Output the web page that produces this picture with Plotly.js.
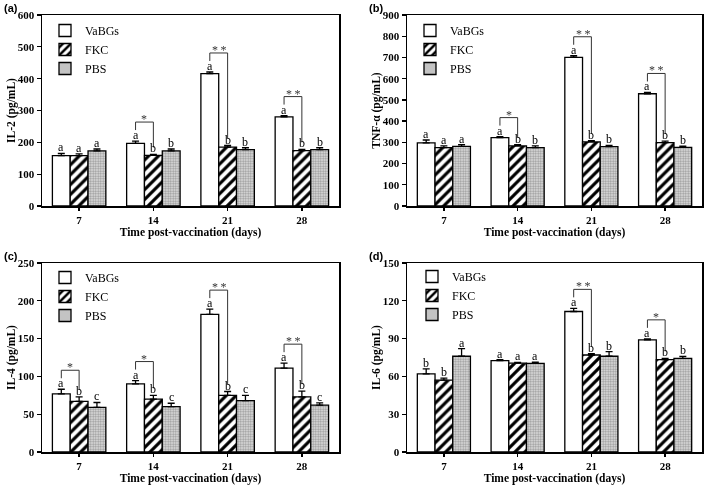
<!DOCTYPE html>
<html>
<head>
<meta charset="utf-8">
<script src="https://cdn.plot.ly/plotly-3.0.1.min.js"></script>
<style>
  html, body { margin: 0; padding: 0; background: #fff; }
  #chart { width: 709px; height: 487px; filter: grayscale(100%); }
</style>
</head>
<body>
<div id="chart"></div>
<script>
// days and groups
var days = ['7', '14', '21', '28'];
var groups = ['VaBGs', 'FKC', 'PBS'];

// IL-2 (pg/mL)
var il2Vab = [158, 197, 416, 280];
var il2VabErr = [7, 7, 5, 4];
var il2Fkc = [158, 159, 185, 174];
var il2FkcErr = [6, 3, 5, 4];
var il2Pbs = [173, 173, 177, 177];
var il2PbsErr = [6, 6, 6, 6];
var il2LetVab = ['a', 'a', 'a', 'a'];
var il2LetFkc = ['a', 'b', 'b', 'b'];
var il2LetPbs = ['a', 'b', 'b', 'b'];
var il2Sig = ['', '*', '**', '**'];

// TNF-alpha (pg/mL)
var tnfVab = [297, 322, 700, 529];
var tnfVabErr = [14, 5, 8, 6];
var tnfFkc = [275, 283, 302, 299];
var tnfFkcErr = [8, 6, 6, 7];
var tnfPbs = [281, 275, 280, 276];
var tnfPbsErr = [8, 8, 6, 6];
var tnfLetVab = ['a', 'a', 'a', 'a'];
var tnfLetFkc = ['a', 'b', 'b', 'b'];
var tnfLetPbs = ['a', 'b', 'b', 'b'];
var tnfSig = ['', '*', '**', '**'];

// IL-4 (pg/mL)
var il4Vab = [77, 90, 182, 111];
var il4VabErr = [6, 4.5, 7, 6.5];
var il4Fkc = [67, 70, 75, 73];
var il4FkcErr = [6, 5, 5, 7.5];
var il4Pbs = [59, 60, 68, 62];
var il4PbsErr = [6.5, 4.5, 7, 3];
var il4LetVab = ['a', 'a', 'a', 'a'];
var il4LetFkc = ['b', 'b', 'b', 'b'];
var il4LetPbs = ['c', 'c', 'c', 'c'];
var il4Sig = ['*', '*', '**', '**'];

// IL-6 (pg/mL)
var il6Vab = [62, 72.5, 111.5, 89];
var il6VabErr = [4, 0.8, 2.5, 0.8];
var il6Fkc = [57, 70.5, 77, 73.3];
var il6FkcErr = [1.6, 0.6, 1, 1];
var il6Pbs = [76, 70.4, 76, 74.3];
var il6PbsErr = [6, 1, 3.7, 1.6];
var il6LetVab = ['b', 'a', 'a', 'a'];
var il6LetFkc = ['b', 'a', 'b', 'b'];
var il6LetPbs = ['a', 'a', 'b', 'b'];
var il6Sig = ['', '', '**', '*'];

var W = 709, H = 487;
var bargap = 0.28;
var bw = (1 - bargap) / 3;
var serif = 'Liberation Serif, Times New Roman, serif';

// box = [left, top, right, bottom] in pixels, leg = legend left/top in pixels
var panels = [
    {tag: '(a)', title: 'IL-2 (pg/mL)', yMax: 600, dtick: 100, box: [42, 15, 339, 206], leg: [45, 16],
     vals: [il2Vab, il2Fkc, il2Pbs], errs: [il2VabErr, il2FkcErr, il2PbsErr], lets: [il2LetVab, il2LetFkc, il2LetPbs], sig: il2Sig},
    {tag: '(b)', title: 'TNF-α (pg/mL)', yMax: 900, dtick: 100, box: [407, 15, 702, 206], leg: [410, 16],
     vals: [tnfVab, tnfFkc, tnfPbs], errs: [tnfVabErr, tnfFkcErr, tnfPbsErr], lets: [tnfLetVab, tnfLetFkc, tnfLetPbs], sig: tnfSig},
    {tag: '(c)', title: 'IL-4 (pg/mL)', yMax: 250, dtick: 50, box: [42, 263, 339, 452], leg: [45, 263],
     vals: [il4Vab, il4Fkc, il4Pbs], errs: [il4VabErr, il4FkcErr, il4PbsErr], lets: [il4LetVab, il4LetFkc, il4LetPbs], sig: il4Sig},
    {tag: '(d)', title: 'IL-6 (pg/mL)', yMax: 150, dtick: 30, box: [407, 263, 702, 452], leg: [412, 262],
     vals: [il6Vab, il6Fkc, il6Pbs], errs: [il6VabErr, il6FkcErr, il6PbsErr], lets: [il6LetVab, il6LetFkc, il6LetPbs], sig: il6Sig}
];

var patterns = [
    {shape: ''},
    {shape: '/', fgcolor: 'black', bgcolor: 'white', size: 7, solidity: 0.45},
    {shape: '.', fgcolor: '#9a9a9a', bgcolor: '#e4e4e4', size: 2.5, solidity: 0.5}
];

var data = [];
var annotations = [];
var shapes = [];
var layout = {
    width: W, height: H,
    margin: {l: 0, r: 0, t: 0, b: 0},
    font: {family: serif, color: 'black'},
    paper_bgcolor: 'white',
    plot_bgcolor: 'white',
    barmode: 'group',
    bargap: bargap,
    bargroupgap: 0,
    showlegend: true
};

panels.forEach(function (p, n) {
    var sfx = n === 0 ? '' : String(n + 1);
    var xr = 'x' + sfx, yr = 'y' + sfx;
    var legName = 'legend' + sfx;
    var b = p.box;
    var u = p.yMax / (b[3] - b[1]); // data units per pixel
    var xs = [0, 1, 2, 3];

    for (var g = 0; g < 3; g++) {
        data.push({
            type: 'bar',
            x: xs,
            y: p.vals[g],
            name: groups[g],
            xaxis: xr,
            yaxis: yr,
            legend: legName,
            marker: {color: 'white', line: {color: 'black', width: 1.3}, pattern: patterns[g]},
            error_y: {type: 'data', symmetric: false, array: p.errs[g], arrayminus: [0, 0, 0, 0],
                      color: 'black', thickness: 1.3, width: 3.5},
            hoverinfo: 'y'
        });
        for (var i = 0; i < 4; i++) {
            annotations.push({
                xref: xr, yref: yr,
                x: i + (g - 1) * bw, y: p.vals[g][i] + p.errs[g][i],
                text: p.lets[g][i], showarrow: false,
                yanchor: 'bottom', yshift: -3,
                font: {family: serif, size: 12, color: 'black'}
            });
        }
    }

    // significance brackets between VaBGs and FKC
    for (var i = 0; i < 4; i++) {
        if (!p.sig[i]) continue;
        var vTop = p.vals[0][i] + p.errs[0][i];
        var fTop = p.vals[1][i] + p.errs[1][i];
        var yTop = vTop + 19 * u;
        var x1 = i - bw, x2 = i;
        shapes.push({
            type: 'path', xref: xr, yref: yr,
            path: 'M' + x1 + ',' + (vTop + 11 * u) + ' L' + x1 + ',' + yTop +
                  ' L' + x2 + ',' + yTop + ' L' + x2 + ',' + (fTop + 7 * u),
            line: {color: '#333', width: 1}
        });
        annotations.push({
            xref: xr, yref: yr,
            x: i - bw / 2, y: yTop,
            text: p.sig[i] === '**' ? '*\u2009*' : '*', showarrow: false,
            yanchor: 'bottom', yshift: -6,
            font: {family: serif, size: 12, color: '#333'}
        });
    }

    layout['xaxis' + sfx] = {
        domain: [b[0] / W, b[2] / W],
        anchor: yr,
        range: [-0.5, 3.5],
        tickvals: xs, ticktext: days,
        ticks: 'outside', ticklen: 3, tickwidth: 1.3, tickcolor: 'black',
        showline: true, mirror: true, linecolor: 'black', linewidth: 1.5,
        showgrid: false, zeroline: false, fixedrange: true,
        tickfont: {family: serif, size: 11, color: 'black', weight: 'bold'},
        title: {text: '<b>Time post-vaccination (days)</b>', standoff: 2,
                font: {family: serif, size: 11.5, color: 'black'}}
    };
    layout['yaxis' + sfx] = {
        domain: [1 - b[3] / H, 1 - b[1] / H],
        anchor: xr,
        range: [0, p.yMax], dtick: p.dtick,
        ticks: 'outside', ticklen: 4, tickwidth: 1.3, tickcolor: 'black',
        showline: true, mirror: true, linecolor: 'black', linewidth: 1.5,
        showgrid: false, zeroline: false, fixedrange: true,
        tickfont: {family: serif, size: 11, color: 'black', weight: 'bold'},
        title: {text: '<b>' + p.title + '</b>', standoff: 0,
                font: {family: serif, size: 11.5, color: 'black'}}
    };
    layout[legName] = {
        x: p.leg[0] / W, y: 1 - p.leg[1] / H,
        xanchor: 'left', yanchor: 'top',
        bgcolor: 'rgba(0,0,0,0)',
        font: {family: serif, size: 12, color: 'black'},
        traceorder: 'normal'
    };

    annotations.push({
        xref: 'paper', yref: 'paper',
        x: (b[0] - 40) / W, y: 1 - (b[1] - 15) / H,
        xanchor: 'left', yanchor: 'top',
        text: '<b>' + p.tag + '</b>', showarrow: false,
        font: {family: 'Liberation Sans, Arial, sans-serif', size: 11, color: 'black'}
    });
});

layout.annotations = annotations;
layout.shapes = shapes;

Plotly.newPlot('chart', data, layout, {displayModeBar: false, staticPlot: true});
</script>
</body>
</html>
